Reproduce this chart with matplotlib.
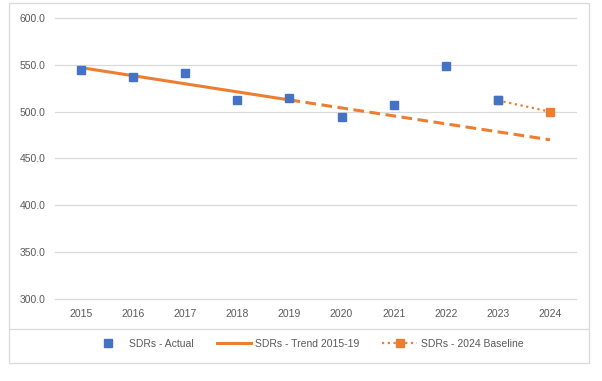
import matplotlib
matplotlib.use("AGG")
from matplotlib import pyplot as plt
from matplotlib.lines import Line2D

plt.rcParams['font.family'] = ['Liberation Sans', 'DejaVu Sans']

years = ["2015", "2016", "2017", "2018", "2019", "2020", "2021", "2022", "2023", "2024"]
actual = [545, 536.5, 541, 512, 515, 494, 507, 549, 512]
# trend at 2015, 2019 and 2024
trend_years = [0, 4, 9]
trend_vals = [547, 512.5, 470]
baseline_years = [8, 9]
baseline_vals = [512, 500]

blue = "#4472C4"
orange = "#ED7D31"
grid = "#D9D9D9"
txt = "#595959"

fig = plt.figure(figsize=(6.02, 3.81), dpi=100)
ax = fig.add_axes([55 / 602, 1 - 299 / 381, 521 / 602, 281 / 381])

ax.plot(trend_years[:2], trend_vals[:2], color=orange, lw=2.2, solid_capstyle="butt", zorder=2)
ax.plot(trend_years[1:], trend_vals[1:], color=orange, lw=2.2, dashes=(3.5, 1.8), zorder=2)
ax.plot(baseline_years, baseline_vals, color=orange, lw=1.6, ls=(0, (1, 1.6)),
        marker="s", ms=5.2, zorder=3)
ax.plot(range(len(actual)), actual, ls="none", marker="s", ms=5.2, color=blue, zorder=4)

ax.set_xlim(-0.5, 9.5)
ax.set_ylim(300, 600)
ax.set_yticks(range(300, 601, 50))
ax.set_yticklabels(["%.1f" % v for v in range(300, 601, 50)])
ax.set_xticks(range(len(years)))
ax.set_xticklabels(years)
ax.grid(axis="y", color=grid, lw=0.9)
for gl in ax.get_ygridlines():
    gl.set_clip_on(False)
ax.set_axisbelow(True)
for s in ax.spines.values():
    s.set_visible(False)
ax.tick_params(length=0, labelsize=7.5, labelcolor=txt)
ax.tick_params(axis="y", pad=7)
ax.tick_params(axis="x", pad=7)

# chart frame and legend separator
fig.patches.append(plt.Rectangle((9 / 602, 1 - 363 / 381), 580 / 602, 360 / 381,
                                 transform=fig.transFigure, fill=False, ec=grid, lw=0.9))
fig.lines.append(Line2D([9 / 602, 589 / 602], [1 - 329 / 381] * 2,
                        transform=fig.transFigure, color=grid, lw=0.9))

handles = [
    Line2D([], [], ls="none", marker="s", ms=5.2, color=blue),
    Line2D([], [], color=orange, lw=2.2),
    Line2D([], [], color=orange, lw=1.6, ls=(0, (1, 1.6)), marker="s", ms=5.2),
]
labels = ["SDRs - Actual", "SDRs - Trend 2015-19", "SDRs - 2024 Baseline"]
fig.legend(handles, labels, loc="center", bbox_to_anchor=(307 / 602, 1 - 344 / 381),
           ncol=3, frameon=False, fontsize=7.5, labelcolor=txt, handlelength=3.3,
           handletextpad=0.4, columnspacing=2.2)

fig.savefig("out.png", dpi=100)
